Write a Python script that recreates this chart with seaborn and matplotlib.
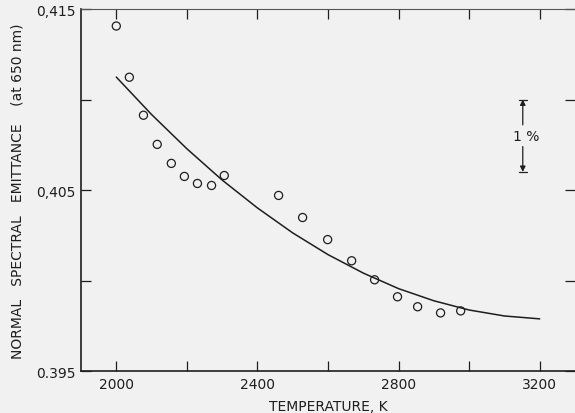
import numpy as np
import pandas as pd
import matplotlib
matplotlib.use("Agg")
import matplotlib.pyplot as plt
import seaborn as sns

temps = [2000, 2037, 2077, 2116, 2156, 2193, 2230, 2270, 2306, 2460,
         2528, 2599, 2667, 2732, 2797, 2854, 2919, 2976]
emittance = [0.41406, 0.41123, 0.40913, 0.40752, 0.40647, 0.40575, 0.40536,
             0.40525, 0.40580, 0.40470, 0.40348, 0.40226, 0.40109, 0.40004,
             0.39910, 0.39855, 0.39821, 0.39832]

# smooth fitted curve, read at 100 K steps
curve_T = [2000, 2100, 2200, 2300, 2400, 2500, 2600, 2700, 2800, 2900,
           3000, 3100, 3200]
curve_eps = [0.41124, 0.40917, 0.40728, 0.40555, 0.40401, 0.40263, 0.40143,
             0.40041, 0.39955, 0.39888, 0.39837, 0.39804, 0.39788]

x_ticks = [2000, 2200, 2400, 2600, 2800, 3000, 3200]
x_labels = ["2000", "", "2400", "", "2800", "", "3200"]
y_ticks = [0.395, 0.400, 0.405, 0.410, 0.415]
y_labels = ["0.395", "", "0,405", "", "0,415"]

# 1 % scale bar
bar_T = 3152
bar_top = 0.4100
bar_bottom = 0.4060

df = pd.DataFrame({"T": temps, "eps": emittance})
fit = pd.DataFrame({"T": curve_T, "eps": curve_eps})

sns.set_style("ticks")
plt.rcParams["font.family"] = ["DejaVu Sans"]
ink = "#1e1e1e"
bg = "#f1f1f1"

fig = plt.figure(figsize=(5.75, 4.14), dpi=100, facecolor=bg)
ax = fig.add_axes([81 / 575, 1 - 372 / 414, 1 - 81 / 575, 362 / 414])
ax.set_facecolor(bg)

sns.lineplot(data=fit, x="T", y="eps", ax=ax, color=ink, linewidth=1.1)
sns.scatterplot(data=df, x="T", y="eps", ax=ax, marker="o", s=34,
                facecolors="none", edgecolors=ink, linewidth=0.9)

ax.set_xlim(1900, 3300)
ax.set_ylim(0.395, 0.415)
ax.set_xticks(x_ticks)
ax.set_xticklabels(x_labels)
ax.set_yticks(y_ticks)
ax.set_yticklabels(y_labels)
ax.tick_params(direction="in", length=7.5, width=0.9, color=ink,
               labelsize=10, labelcolor=ink, top=True, right=True, pad=4)

for side in ["left", "bottom"]:
    ax.spines[side].set_linewidth(1.2)
    ax.spines[side].set_color(ink)
ax.spines["top"].set_linewidth(0.8)
ax.spines["top"].set_color("#555555")
ax.spines["right"].set_visible(False)

ax.set_xlabel("TEMPERATURE, K", fontsize=10, color=ink, labelpad=6)
ax.set_ylabel("NORMAL   SPECTRAL   EMITTANCE    (at 650 nm)", fontsize=10,
              color=ink, labelpad=8)

# 1% scale bar with arrows
mid = (bar_top + bar_bottom) / 2
ax.text(bar_T + 10, mid, "1 %", ha="center", va="center", fontsize=10, color=ink)
arrow = dict(arrowstyle="-|>", color=ink, lw=0.9, mutation_scale=8,
             shrinkA=0, shrinkB=0)
ax.annotate("", xy=(bar_T, bar_top), xytext=(bar_T, mid + 0.0006), arrowprops=arrow)
ax.annotate("", xy=(bar_T, bar_bottom), xytext=(bar_T, mid - 0.0006), arrowprops=arrow)
ax.plot([bar_T - 12, bar_T + 12], [bar_top, bar_top], color=ink, lw=0.9)
ax.plot([bar_T - 12, bar_T + 12], [bar_bottom, bar_bottom], color=ink, lw=0.9)

fig.savefig("out.png", dpi=100, facecolor=bg)
